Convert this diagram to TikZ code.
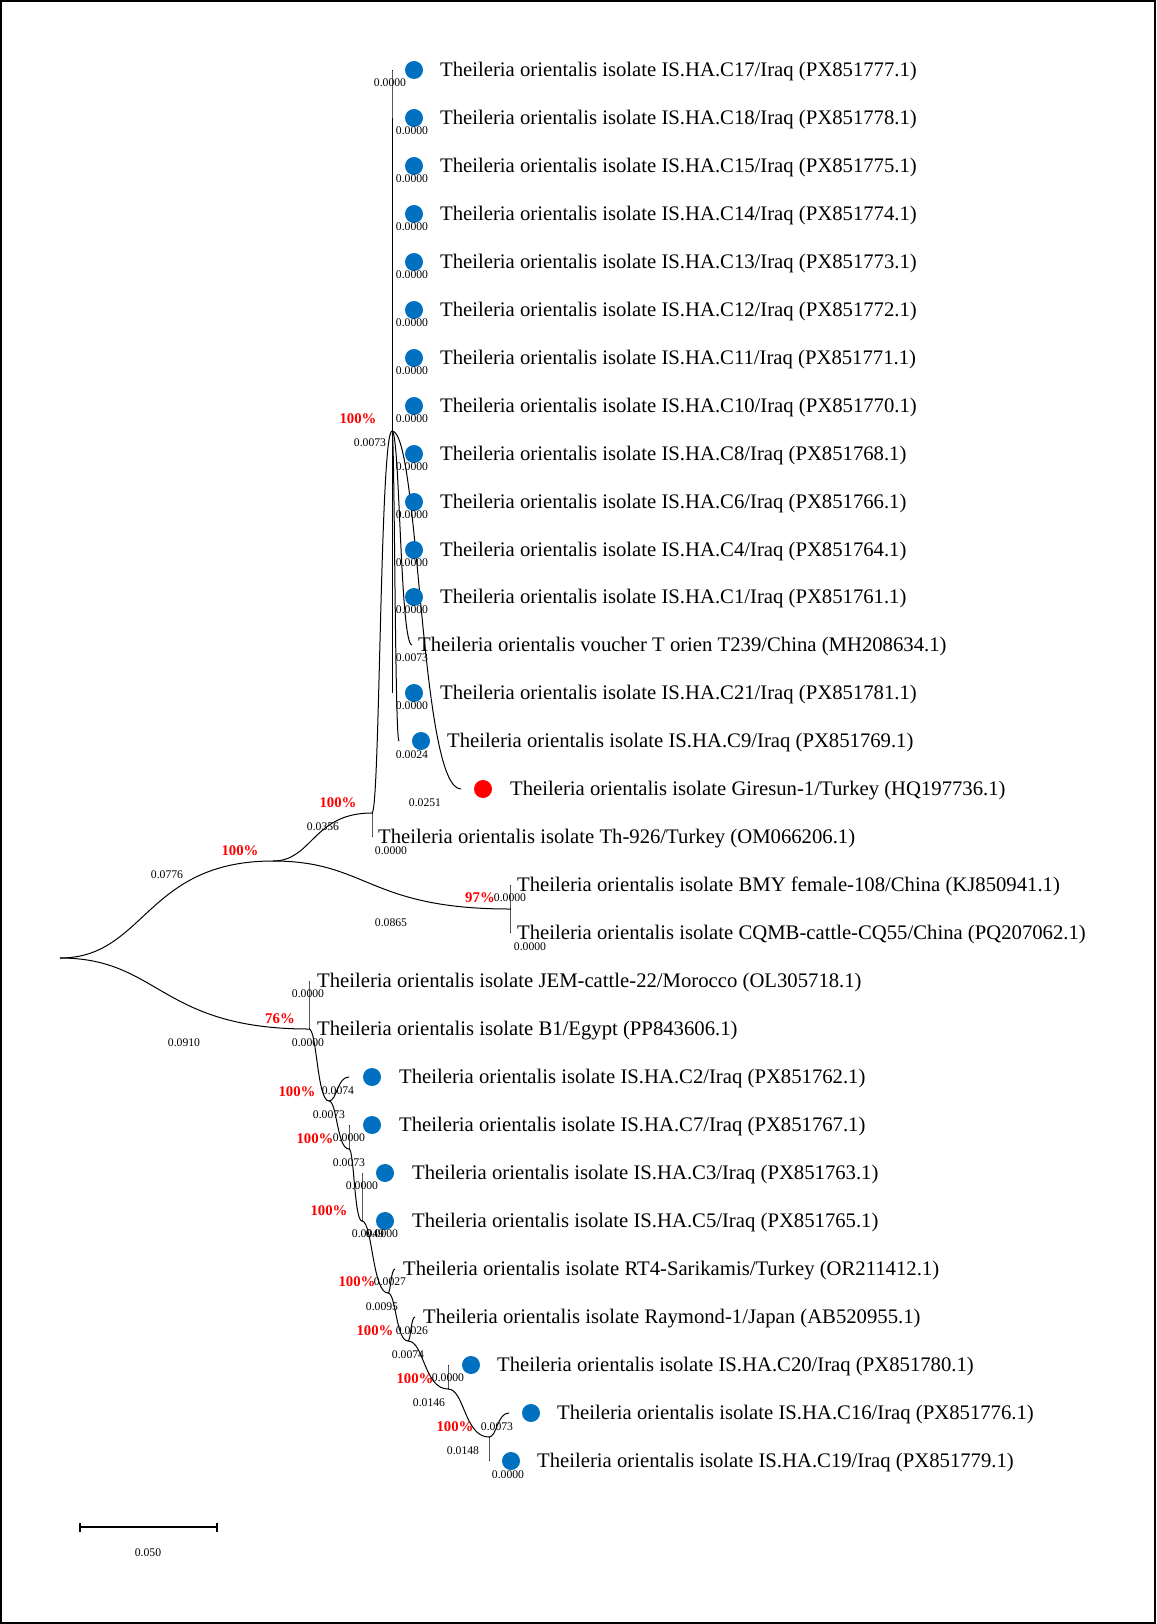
\documentclass[tikz,border=0pt]{standalone}
\usepackage{fontspec}
\setmainfont{Liberation Serif}
\usetikzlibrary{calc}
\definecolor{dotblue}{RGB}{0,112,192}
\definecolor{supred}{RGB}{255,0,0}
\tikzset{
  br/.style={line width=1pt, to path={let \p1=(\tikztostart), \p2=(\tikztotarget) in
     .. controls ({\x1+0.4*(\x2-\x1)},\y1) and ({\x1+0.4*(\x2-\x1)},\y2) .. (\tikztotarget)}},
  leaf/.style={anchor=base west, inner sep=0pt, font=\fontsize{20.7}{24}\selectfont},
  bl/.style={inner sep=0pt, font=\fontsize{11.7}{13}\selectfont},
  sup/.style={inner sep=0pt, text=supred, font=\bfseries\fontsize{14.8}{16}\selectfont},
  bdot/.style={circle, fill=dotblue, minimum size=18pt, inner sep=0pt},
  rdot/.style={circle, fill=supred, minimum size=18pt, inner sep=0pt},
  frame/.style={line width=2pt},
  sbar/.style={line width=1.3pt}
}
\begin{document}
\begin{tikzpicture}[x=1pt,y=-1pt]
\useasboundingbox (0,0) rectangle (1156,1624);
\coordinate (fr1) at (1,1);
\coordinate (fr2) at (1155,1623);
\draw[frame] (fr1) rectangle (fr2);

% internal nodes
\coordinate (R) at (60,958);
\coordinate (A) at (273,861);
\coordinate (B) at (372,813);
\coordinate (C) at (392,431);
\coordinate (D) at (510,909);
\coordinate (E) at (309,1029);
\coordinate (F1) at (329,1101);
\coordinate (F2) at (349,1149);
\coordinate (F3) at (362,1221);
\coordinate (F4) at (388,1293);
\coordinate (F5) at (408,1341);
\coordinate (F6) at (448,1389);
\coordinate (F7) at (489,1437);

% leaf ends
\coordinate (lfT239) at (412,645);
\coordinate (lfC9) at (399,741);
\coordinate (lfGir) at (461,789);
\coordinate (lfTh) at (372,837);
\coordinate (lfBMY) at (510,885);
\coordinate (lfCQ) at (510,933);
\coordinate (lfJEM) at (309,981);
\coordinate (lfB1) at (309,1029);
\coordinate (lfC2) at (349,1077);
\coordinate (lfC7) at (349,1125);
\coordinate (lfC3) at (362,1173);
\coordinate (lfC5) at (362,1221);
\coordinate (lfRT4) at (395,1269);
\coordinate (lfRay) at (415,1317);
\coordinate (lfC20) at (448,1365);
\coordinate (lfC16) at (509,1413);
\coordinate (lfC19) at (489,1461);

% branches
\draw[br] (R) to (A);
\draw[br] (R) to (E);
\draw[br] (A) to (B);
\draw[br] (A) to (D);
\draw[br] (B) to (C);
\draw[br] (B) to (lfTh);
\draw[br] (C) to (lfT239);
\draw[br] (C) to (lfC9);
\draw[br] (C) to (lfGir);
\draw[br] (D) to (lfBMY);
\draw[br] (D) to (lfCQ);
\draw[br] (E) to (lfJEM);
\draw[br] (E) to (F1);
\draw[br] (F1) to (lfC2);
\draw[br] (F1) to (F2);
\draw[br] (F2) to (lfC7);
\draw[br] (F2) to (F3);
\draw[br] (F3) to (lfC3);
\draw[br] (F3) to (F4);
\draw[br] (F4) to (lfRT4);
\draw[br] (F4) to (F5);
\draw[br] (F5) to (lfRay);
\draw[br] (F5) to (F6);
\draw[br] (F6) to (lfC20);
\draw[br] (F6) to (F7);
\draw[br] (F7) to (lfC16);
\draw[br] (F7) to (lfC19);

% Iraq cluster with zero-length branches
\coordinate (lfC17) at (392,70);
\draw[br] (C) to (lfC17);
\node[bdot] (dotC17) at (414,70) {};
\node[leaf] (txtC17) at (440,76.5) {Theileria orientalis isolate IS.HA.C17/Iraq (PX851777.1)};
\node[bl] (blC17) at (390,83) {0.0000};
\foreach \lnm/\ly/\acc in {C18/118/PX851778.1, C15/166/PX851775.1, C14/214/PX851774.1,
  C13/262/PX851773.1, C12/310/PX851772.1, C11/358/PX851771.1, C10/406/PX851770.1,
  C8/454/PX851768.1, C6/502/PX851766.1, C4/550/PX851764.1, C1/597/PX851761.1,
  C21/693/PX851781.1}{
  \coordinate (lf\lnm) at (392,\ly);
  \draw[line width=1pt] (C) -- (lf\lnm);
  \node[bdot] (dot\lnm) at (414,\ly) {};
  \node[leaf] (txt\lnm) at (440,\ly+6.5) {Theileria orientalis isolate IS.HA.\lnm/Iraq (\acc)};
  \node[bl] (bl\lnm) at (412,\ly+13) {0.0000};
}

% other leaves
\node[leaf] (txtT239) at (418,651.5) {Theileria orientalis voucher T orien T239/China (MH208634.1)};
\node[bl] (blT239) at (412,658) {0.0073};
\node[bdot] (dotC9) at (421,741) {};
\node[leaf] (txtC9) at (447,747.5) {Theileria orientalis isolate IS.HA.C9/Iraq (PX851769.1)};
\node[bl] (blC9) at (412,755) {0.0024};
\node[rdot] (dotGir) at (483,789) {};
\node[leaf] (txtGir) at (510,795.5) {Theileria orientalis isolate Giresun-1/Turkey (HQ197736.1)};
\node[bl] (blGir) at (425,803) {0.0251};
\node[leaf] (txtTh) at (378,843.5) {Theileria orientalis isolate Th-926/Turkey (OM066206.1)};
\node[bl] (blTh) at (391,851) {0.0000};
\node[leaf] (txtBMY) at (517,891.5) {Theileria orientalis isolate BMY female-108/China (KJ850941.1)};
\node[bl] (blBMY) at (510,898) {0.0000};
\node[leaf] (txtCQ) at (517,939.5) {Theileria orientalis isolate CQMB-cattle-CQ55/China (PQ207062.1)};
\node[bl] (blCQ) at (530,947) {0.0000};
\node[leaf] (txtJEM) at (317,987.5) {Theileria orientalis isolate JEM-cattle-22/Morocco (OL305718.1)};
\node[bl] (blJEM) at (308,994) {0.0000};
\node[leaf] (txtB1) at (317,1035.5) {Theileria orientalis isolate B1/Egypt (PP843606.1)};
\node[bl] (blB1) at (308,1043) {0.0000};
\node[bdot] (dotC2) at (372,1077) {};
\node[leaf] (txtC2) at (399,1083.5) {Theileria orientalis isolate IS.HA.C2/Iraq (PX851762.1)};
\node[bl] (blC2) at (338,1091) {0.0074};
\node[bdot] (dotC7) at (372,1125) {};
\node[leaf] (txtC7) at (399,1131.5) {Theileria orientalis isolate IS.HA.C7/Iraq (PX851767.1)};
\node[bl] (blC7) at (349,1138) {0.0000};
\node[bdot] (dotC3) at (385,1173) {};
\node[leaf] (txtC3) at (412,1179.5) {Theileria orientalis isolate IS.HA.C3/Iraq (PX851763.1)};
\node[bl] (blC3) at (362,1186) {0.0000};
\node[bdot] (dotC5) at (385,1221) {};
\node[leaf] (txtC5) at (412,1227.5) {Theileria orientalis isolate IS.HA.C5/Iraq (PX851765.1)};
\node[bl] (blC5) at (382,1234) {0.0000};
\node[leaf] (txtRT4) at (403,1275.5) {Theileria orientalis isolate RT4-Sarikamis/Turkey (OR211412.1)};
\node[bl] (blRT4) at (390,1282) {0.0027};
\node[leaf] (txtRay) at (423,1323.5) {Theileria orientalis isolate Raymond-1/Japan (AB520955.1)};
\node[bl] (blRay) at (412,1331) {0.0026};
\node[bdot] (dotC20) at (471,1365) {};
\node[leaf] (txtC20) at (497,1371.5) {Theileria orientalis isolate IS.HA.C20/Iraq (PX851780.1)};
\node[bl] (blC20) at (448,1378) {0.0000};
\node[bdot] (dotC16) at (531,1413) {};
\node[leaf] (txtC16) at (557,1419.5) {Theileria orientalis isolate IS.HA.C16/Iraq (PX851776.1)};
\node[bl] (blC16) at (497,1427) {0.0073};
\node[bdot] (dotC19) at (511,1461) {};
\node[leaf] (txtC19) at (537,1467.5) {Theileria orientalis isolate IS.HA.C19/Iraq (PX851779.1)};
\node[bl] (blC19) at (508,1475) {0.0000};

% internal branch labels and supports
\node[sup] (sC) at (358,419) {100\%};
\node[bl] (bC) at (370,443) {0.0073};
\node[sup] (sB) at (338,803) {100\%};
\node[bl] (bB) at (323,827) {0.0356};
\node[sup] (sA) at (240,851) {100\%};
\node[bl] (bA) at (167,875) {0.0776};
\node[sup] (sD) at (480,898) {97\%};
\node[bl] (bD) at (391,923) {0.0865};
\node[sup] (sE) at (280,1019) {76\%};
\node[bl] (bE) at (184,1043) {0.0910};
\node[sup] (sF1) at (297,1092) {100\%};
\node[bl] (bF1) at (329,1115) {0.0073};
\node[sup] (sF2) at (315,1139) {100\%};
\node[bl] (bF2) at (349,1163) {0.0073};
\node[sup] (sF3) at (329,1211) {100\%};
\node[bl] (bF3) at (368,1234) {0.0049};
\node[sup] (sF4) at (357,1282) {100\%};
\node[bl] (bF4) at (382,1307) {0.0095};
\node[sup] (sF5) at (375,1331) {100\%};
\node[bl] (bF5) at (408,1355) {0.0074};
\node[sup] (sF6) at (415,1379) {100\%};
\node[bl] (bF6) at (429,1403) {0.0146};
\node[sup] (sF7) at (455,1427) {100\%};
\node[bl] (bF7) at (463,1451) {0.0148};

% scale bar
\coordinate (sbL) at (80,1527);
\coordinate (sbR) at (217,1527);
\draw[sbar] (sbL) -- (sbR);
\draw[sbar] (sbL) ++(0,-4.5) -- ++(0,9);
\draw[sbar] (sbR) ++(0,-4.5) -- ++(0,9);
\node[bl] (sblab) at (148,1553) {0.050};
\end{tikzpicture}
\end{document}
